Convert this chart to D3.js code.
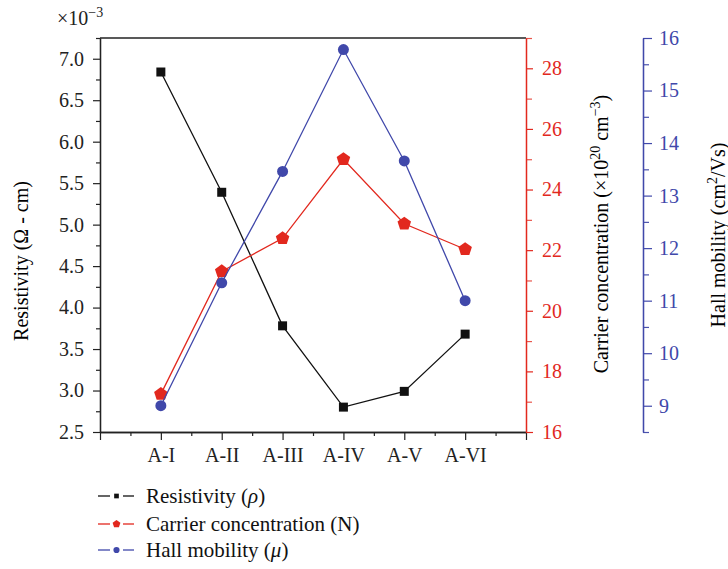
<!DOCTYPE html>
<html>
<head>
<meta charset="utf-8">
<script src="https://cdn.jsdelivr.net/npm/d3@7"></script>
<style>
  body { margin: 0; background: #fff; }
  svg text { font-family: "Liberation Serif", "DejaVu Serif", serif; }
</style>
</head>
<body>
<div id="chart"></div>
<script>
// chart data
var categories = ["A-I", "A-II", "A-III", "A-IV", "A-V", "A-VI"];
var resistivity = [6.84, 5.39, 3.78, 2.80, 2.99, 3.68];   // x10^-3 ohm cm
var carrier = [17.25, 21.3, 22.39, 25.0, 22.87, 22.03];    // x10^20 cm^-3
var mobility = [9.0, 11.34, 13.46, 15.78, 13.66, 11.0];    // cm2/Vs

var resTicks = [2.5, 3.0, 3.5, 4.0, 4.5, 5.0, 5.5, 6.0, 6.5, 7.0];
var carTicks = [16, 18, 20, 22, 24, 26, 28];
var mobTicks = [9, 10, 11, 12, 13, 14, 15, 16];

var legendNames = ["Resistivity (", "Carrier concentration (N)", "Hall mobility ("];

var width = 728, height = 569;
var black = "#111", red = "#e2281e", blue = "#4048aa";
var redAxis = "#e8564c", blueAxis = "#4a52ac";
var tickFont = 20, titleFont = 20;

var svg = d3.select("#chart").append("svg")
    .attr("width", width)
    .attr("height", height);

/* plot box */
var plotLeft = 100, plotRight = 526, plotTop = 38, plotBottom = 432;

var x = d3.scaleLinear().domain([0, 7]).range([plotLeft, plotRight]);
var yRes = d3.scaleLinear().domain([2.5, 7.25]).range([plotBottom, plotTop]);
var yCar = d3.scaleLinear().domain([16, 29]).range([plotBottom, plotTop]);
var yMob = d3.scaleLinear().domain([8.5, 16]).range([plotBottom, plotTop]);

function styleAxis(g, color) {
    g.select(".domain").attr("stroke", color).attr("stroke-width", 1.3);
    g.selectAll(".tick line").attr("stroke", color).attr("stroke-width", 1.2);
    g.selectAll(".tick text").attr("fill", color)
        .style("font-size", tickFont + "px")
        .style("font-family", "Liberation Serif");
}

// top frame line
svg.append("line")
    .attr("x1", plotLeft).attr("x2", plotRight)
    .attr("y1", plotTop).attr("y2", plotTop)
    .attr("stroke", "#222").attr("stroke-width", 1.3);

// bottom axis: minor ticks first, then majors with labels
svg.append("g")
    .attr("transform", "translate(0," + plotBottom + ")")
    .call(d3.axisBottom(x).tickValues(d3.range(0.5, 7, 1)).tickSize(4).tickFormat("").tickSizeOuter(0))
    .call(function(g) { styleAxis(g, "#222"); });
svg.append("g")
    .attr("transform", "translate(0," + plotBottom + ")")
    .call(d3.axisBottom(x).tickValues(d3.range(0, 8)).tickSize(8).tickSizeOuter(0).tickPadding(8)
        .tickFormat(function(d) { return categories[d - 1] || ""; }))
    .call(function(g) { styleAxis(g, "#222"); });

// left axis (resistivity)
svg.append("g")
    .attr("transform", "translate(" + plotLeft + ",0)")
    .call(d3.axisLeft(yRes).tickValues(d3.range(2.75, 7.3, 0.5)).tickSize(4).tickFormat("").tickSizeOuter(0))
    .call(function(g) { styleAxis(g, "#222"); });
svg.append("g")
    .attr("transform", "translate(" + plotLeft + ",0)")
    .call(d3.axisLeft(yRes).tickValues(resTicks).tickSize(7).tickSizeOuter(0).tickPadding(9)
        .tickFormat(d3.format(".1f")))
    .call(function(g) { styleAxis(g, "#222"); });

// red axis (carrier concentration)
svg.append("g")
    .attr("transform", "translate(" + plotRight + ",0)")
    .call(d3.axisRight(yCar).tickValues(d3.range(17, 30, 2)).tickSize(6).tickFormat("").tickSizeOuter(0))
    .call(function(g) { styleAxis(g, redAxis); });
svg.append("g")
    .attr("transform", "translate(" + plotRight + ",0)")
    .call(d3.axisRight(yCar).tickValues(carTicks).tickSize(7).tickSizeOuter(0).tickPadding(9))
    .call(function(g) { styleAxis(g, red); });

// blue axis (hall mobility), offset to the right
var blueX = 643;
svg.append("g")
    .attr("transform", "translate(" + blueX + ",0)")
    .call(d3.axisRight(yMob).tickValues(d3.range(8.5, 16, 1)).tickSize(6).tickFormat("").tickSizeOuter(0))
    .call(function(g) { styleAxis(g, blueAxis); });
svg.append("g")
    .attr("transform", "translate(" + blueX + ",0)")
    .call(d3.axisRight(yMob).tickValues(mobTicks).tickSize(9).tickSizeOuter(0).tickPadding(7))
    .call(function(g) { styleAxis(g, blue); });

// exponent label
var expo = svg.append("text").attr("x", 57).attr("y", 25)
    .style("font-size", "20px").attr("fill", "#222");
expo.append("tspan").text("×10");
expo.append("tspan").attr("dy", -8).style("font-size", "14px").text("−3");

// axis titles
svg.append("text")
    .attr("transform", "translate(28,261) rotate(-90)")
    .attr("text-anchor", "middle")
    .style("font-size", titleFont + "px")
    .text("Resistivity (Ω - cm)");

var t2 = svg.append("text")
    .attr("transform", "translate(608,234) rotate(-90)")
    .attr("text-anchor", "middle")
    .style("font-size", titleFont + "px");
t2.append("tspan").text("Carrier concentration (×10");
t2.append("tspan").attr("dy", -8).style("font-size", "14px").text("20");
t2.append("tspan").attr("dy", 8).text(" cm");
t2.append("tspan").attr("dy", -8).style("font-size", "14px").text("−3");
t2.append("tspan").attr("dy", 8).text(")");

var t3 = svg.append("text")
    .attr("transform", "translate(725,235) rotate(-90)")
    .attr("text-anchor", "middle")
    .style("font-size", titleFont + "px");
t3.append("tspan").text("Hall mobility (cm");
t3.append("tspan").attr("dy", -8).style("font-size", "14px").text("2");
t3.append("tspan").attr("dy", 8).text("/Vs)");

// pentagon symbol
var pentagon = {
    draw: function(context, size) {
        var r = Math.sqrt(size / 2.3776);
        for (var i = 0; i < 5; i++) {
            var a = -Math.PI / 2 + i * 2 * Math.PI / 5;
            if (i === 0) context.moveTo(r * Math.cos(a), r * Math.sin(a));
            else context.lineTo(r * Math.cos(a), r * Math.sin(a));
        }
        context.closePath();
    }
};

var series = [
    { values: resistivity, y: yRes, color: black, type: d3.symbolSquare, size: 81, lsize: 22 },
    { values: carrier, y: yCar, color: red, type: pentagon, size: 120, lsize: 40 },
    { values: mobility, y: yMob, color: blue, type: d3.symbolCircle, size: 95, lsize: 30 }
];

series.forEach(function(s) {
    var line = d3.line()
        .x(function(d, i) { return x(i + 1); })
        .y(function(d) { return s.y(d); });

    svg.append("path")
        .attr("d", line(s.values))
        .attr("fill", "none")
        .attr("stroke", s.color)
        .attr("stroke-width", 1.3);

    svg.append("g").selectAll("path")
        .data(s.values)
        .enter().append("path")
        .attr("transform", function(d, i) { return "translate(" + x(i + 1) + "," + s.y(d) + ")"; })
        .attr("d", d3.symbol().type(s.type).size(s.size))
        .attr("fill", s.color);
});

// legend
var legend = svg.append("g");
var rowY = [496, 524, 550];
series.forEach(function(s, i) {
    var g = legend.append("g").attr("transform", "translate(0," + rowY[i] + ")");
    g.append("line").attr("x1", 98).attr("x2", 110).attr("y1", 0).attr("y2", 0)
        .attr("stroke", s.color).attr("stroke-width", 1.3);
    g.append("line").attr("x1", 123).attr("x2", 134).attr("y1", 0).attr("y2", 0)
        .attr("stroke", s.color).attr("stroke-width", 1.3);
    g.append("path").attr("transform", "translate(116.5,0)")
        .attr("d", d3.symbol().type(s.type).size(s.lsize))
        .attr("fill", s.color);
    var txt = g.append("text").attr("x", 146).attr("y", 7)
        .style("font-size", "21px").attr("fill", "#111");
    txt.append("tspan").text(legendNames[i]);
    if (i === 0) {
        txt.append("tspan").style("font-style", "italic").text("ρ");
        txt.append("tspan").text(")");
    }
    if (i === 2) {
        txt.append("tspan").style("font-style", "italic").text("μ");
        txt.append("tspan").text(")");
    }
});
</script>
</body>
</html>
